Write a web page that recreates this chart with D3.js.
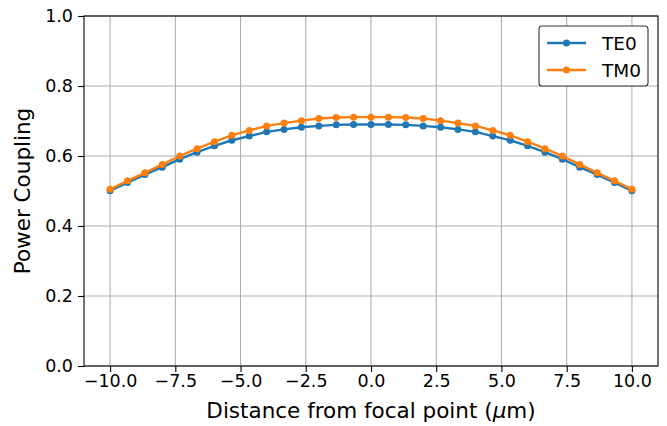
<!DOCTYPE html>
<html>
<head>
<meta charset="utf-8">
<script src="https://cdn.jsdelivr.net/npm/d3@7"></script>
<style>
  body { margin: 0; background: white; }
  text { font-family: "DejaVu Sans", sans-serif; }
</style>
</head>
<body>
<div id="chart"></div>
<script>
// distance from focal point (um)
const distance = [-10, -9.333, -8.667, -8, -7.333, -6.667, -6, -5.333, -4.667, -4, -3.333, -2.667, -2, -1.333, -0.667,
  0, 0.667, 1.333, 2, 2.667, 3.333, 4, 4.667, 5.333, 6, 6.667, 7.333, 8, 8.667, 9.333, 10]

const te0 = [0.501, 0.524, 0.547, 0.568, 0.591, 0.611, 0.629, 0.645, 0.657, 0.669, 0.676, 0.682, 0.686, 0.689, 0.690,
  0.690, 0.690, 0.689, 0.686, 0.682, 0.676, 0.669, 0.657, 0.645, 0.629, 0.611, 0.591, 0.568, 0.547, 0.524, 0.501]

const tm0 = [0.505, 0.529, 0.552, 0.576, 0.600, 0.621, 0.641, 0.659, 0.673, 0.686, 0.694, 0.701, 0.707, 0.710, 0.711,
  0.711, 0.711, 0.710, 0.707, 0.701, 0.694, 0.686, 0.673, 0.659, 0.641, 0.621, 0.600, 0.576, 0.552, 0.529, 0.505]

const xTicks = [-10, -7.5, -5, -2.5, 0, 2.5, 5, 7.5, 10]
const yTicks = [0, 0.2, 0.4, 0.6, 0.8, 1.0]

const series = [
  {name: "TE0", color: "#1f77b4", values: te0},
  {name: "TM0", color: "#ff7f0e", values: tm0}
]

const width = 667, height = 426
const margin = {left: 84, right: 9, top: 16, bottom: 60}

const svg = d3.select("#chart").append("svg")
  .attr("width", width)
  .attr("height", height)

const x = d3.scaleLinear().domain([-11, 11]).range([margin.left, width - margin.right])
const y = d3.scaleLinear().domain([0, 1]).range([height - margin.bottom, margin.top])

// grid
svg.append("g").selectAll("line")
  .data(xTicks).enter().append("line")
  .attr("x1", d => x(d)).attr("x2", d => x(d))
  .attr("y1", y(0)).attr("y2", y(1))
  .attr("stroke", "#b0b0b0").attr("stroke-width", 1.1)

svg.append("g").selectAll("line")
  .data(yTicks).enter().append("line")
  .attr("x1", x(-11)).attr("x2", x(11))
  .attr("y1", d => y(d)).attr("y2", d => y(d))
  .attr("stroke", "#b0b0b0").attr("stroke-width", 1.1)

// axes
const fmt = d => d.toFixed(1).replace("-", "\u2212")

const xAxis = svg.append("g")
  .attr("transform", `translate(0,${y(0)})`)
  .call(d3.axisBottom(x).tickValues(xTicks).tickFormat(fmt).tickSizeOuter(0).tickSize(6).tickPadding(3))

const yAxis = svg.append("g")
  .attr("transform", `translate(${x(-11)},0)`)
  .call(d3.axisLeft(y).tickValues(yTicks).tickFormat(fmt).tickSizeOuter(0).tickSize(6).tickPadding(5))

for (const ax of [xAxis, yAxis]) {
  ax.select(".domain").remove()
  ax.selectAll("text").style("font-size", "17.5px").attr("fill", "#000")
  ax.selectAll("line").attr("stroke", "#000").attr("stroke-width", 1.1)
}

// frame
svg.append("rect")
  .attr("x", x(-11)).attr("y", y(1))
  .attr("width", x(11) - x(-11)).attr("height", y(0) - y(1))
  .attr("fill", "none").attr("stroke", "#000").attr("stroke-width", 1.1)

// lines
const line = d3.line()
  .x((d, i) => x(distance[i]))
  .y(d => y(d))

series.forEach(s => {
  const g = svg.append("g")
  g.append("path")
    .attr("d", line(s.values))
    .attr("fill", "none")
    .attr("stroke", s.color)
    .attr("stroke-width", 2.4)
  g.selectAll("circle")
    .data(s.values).enter().append("circle")
    .attr("cx", (d, i) => x(distance[i]))
    .attr("cy", d => y(d))
    .attr("r", 3.5)
    .attr("fill", s.color)
})

// labels
const xl = svg.append("text")
  .attr("x", (x(-11) + x(11)) / 2)
  .attr("y", 418)
  .attr("text-anchor", "middle")
  .style("font-size", "21.5px")
xl.append("tspan").text("Distance from focal point (")
xl.append("tspan").style("font-style", "italic").text("\u03bc")
xl.append("tspan").text("m)")

svg.append("text")
  .attr("transform", `translate(30,${(y(0) + y(1)) / 2}) rotate(-90)`)
  .attr("text-anchor", "middle")
  .style("font-size", "21.5px")
  .text("Power Coupling")

// legend
const legend = svg.append("g")
legend.append("rect")
  .attr("x", 539).attr("y", 26)
  .attr("width", 109).attr("height", 60)
  .attr("rx", 3)
  .attr("fill", "white").attr("stroke", "#333").attr("stroke-width", 1.1)

series.forEach((s, i) => {
  const cy = 43 + i * 27
  legend.append("line")
    .attr("x1", 547).attr("x2", 586)
    .attr("y1", cy).attr("y2", cy)
    .attr("stroke", s.color).attr("stroke-width", 2.4)
  legend.append("circle")
    .attr("cx", 566.5).attr("cy", cy).attr("r", 3.5)
    .attr("fill", s.color)
  legend.append("text")
    .attr("x", 602).attr("y", cy)
    .attr("dy", "0.36em")
    .style("font-size", "18.5px")
    .text(s.name)
})
</script>
</body>
</html>
